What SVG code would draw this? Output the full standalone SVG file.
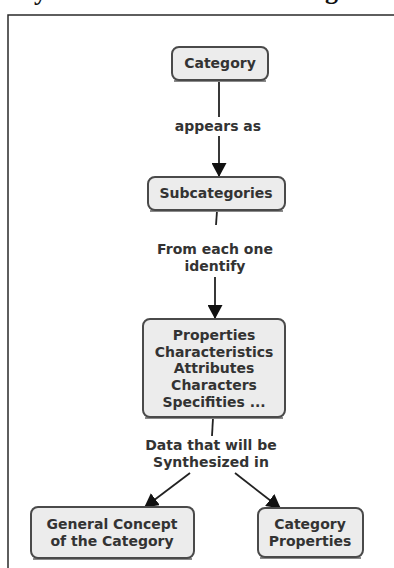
<svg xmlns="http://www.w3.org/2000/svg" width="394" height="568" viewBox="0 0 394 568">
<style>
.box{fill:#ececec;stroke:#4a4a4a;stroke-width:2}
.sh{fill:none;stroke:#8a8a8a;stroke-width:2}
.t{font-family:"DejaVu Sans",Verdana,sans-serif;font-size:14px;font-weight:bold;fill:#333;text-anchor:middle}
.ln{stroke:#222;stroke-width:1.8;fill:none}
.frame{stroke:#2a2a2a;stroke-width:1.5;fill:none}
.ttl{font-family:"Liberation Serif",serif;font-weight:bold;font-size:26px;fill:#111}
</style>
<defs>
<marker id="ah" markerWidth="14" markerHeight="15" refX="13" refY="7.5" orient="auto" markerUnits="userSpaceOnUse" viewBox="0 0 14 15">
<path d="M0,0 L14,7.5 L0,15 Z" fill="#111"/>
</marker>
</defs>
<rect width="394" height="568" fill="#fff"/>
<text class="ttl" x="34" y="0">y</text>
<text class="ttl" x="325" y="-1">g</text>
<path class="frame" d="M8,568 V15 H394"/>
<g id="connectors">
<path class="ln" d="M219,80 V117"/>
<path class="ln" d="M219,136 V176" marker-end="url(#ah)"/>
<path class="ln" d="M217,211 L216,225"/>
<path class="ln" d="M215,277 V318" marker-end="url(#ah)"/>
<path class="ln" d="M213,418 L212,436"/>
<path class="ln" d="M190,473 L145,507" marker-end="url(#ah)"/>
<path class="ln" d="M235,473 L280,508" marker-end="url(#ah)"/>
<text class="t" x="218" y="131">appears as</text>
<text class="t" x="215" y="254">From each one</text>
<text class="t" x="215" y="271">identify</text>
<text class="t" x="211" y="450">Data that will be</text>
<text class="t" x="211" y="467">Synthesized in</text>
</g>
<g id="category">
<path class="sh" d="M174,81 H266"/>
<rect class="box" x="172" y="47" width="96" height="33" rx="7"/>
<text class="t" x="220" y="68">Category</text>
</g>
<g id="subcategories">
<path class="sh" d="M150,211 H283"/>
<rect class="box" x="148" y="177" width="137" height="33" rx="7"/>
<text class="t" x="216" y="198">Subcategories</text>
</g>
<g id="properties">
<path class="sh" d="M145,418 H283"/>
<rect class="box" x="143" y="319" width="142" height="98" rx="7"/>
<text class="t" x="214" y="340">Properties</text>
<text class="t" x="214" y="357">Characteristics</text>
<text class="t" x="214" y="373">Attributes</text>
<text class="t" x="214" y="390">Characters</text>
<text class="t" x="214" y="407">Specifities ...</text>
</g>
<g id="general-concept">
<path class="sh" d="M33,559 H192"/>
<rect class="box" x="31" y="507" width="163" height="51" rx="7"/>
<text class="t" x="112" y="529">General Concept</text>
<text class="t" x="112" y="546">of the Category</text>
</g>
<g id="category-properties">
<path class="sh" d="M260,558 H361"/>
<rect class="box" x="258" y="508" width="105" height="49" rx="7"/>
<text class="t" x="310" y="529">Category</text>
<text class="t" x="310" y="546">Properties</text>
</g>
</svg>
